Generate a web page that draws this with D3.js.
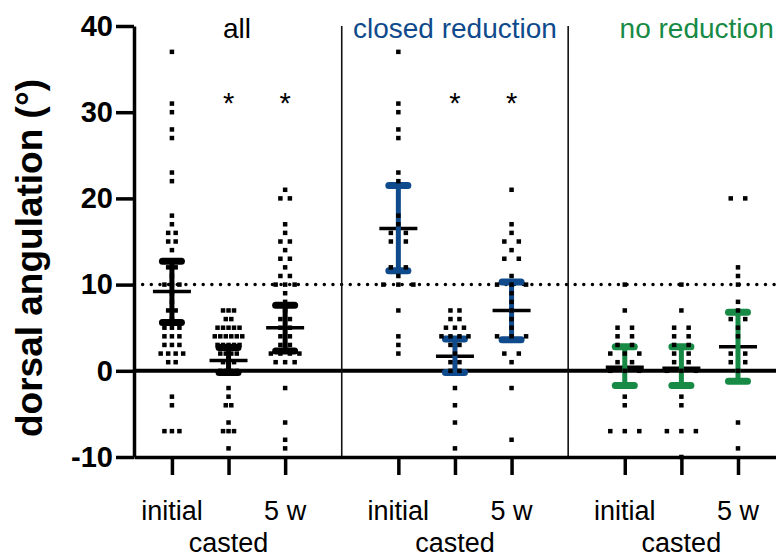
<!DOCTYPE html>
<html>
<head>
<meta charset="utf-8">
<script src="https://cdn.jsdelivr.net/npm/d3@7"></script>
<style>
  body { margin: 0; background: #fff; }
  svg { display: block; font-family: "Liberation Sans", Arial, sans-serif; }
</style>
</head>
<body>
<div id="chart"></div>
<script>
const panels = ["all", "closed reduction", "no reduction"];
const timepoints = ["initial", "casted", "5 w"];
const yTicks = [-10, 0, 10, 20, 30, 40];
const threshold = 10;

// one entry per group: panel 0 initial, casted, 5 w, panel 1 ..., panel 2 ...
const means = [9.2, 1.2, 5.0, 16.5, 1.7, 7.0, 0.4, 0.3, 2.8];
const ciLow = [5.6, -0.2, 2.3, 11.6, -0.2, 3.6, -1.7, -1.7, -1.2];
const ciHigh = [12.7, 2.7, 7.6, 21.5, 3.7, 10.3, 2.8, 2.8, 6.8];
const significant = [false, true, true, false, true, true, false, false, false];

const allInitial = [37, 31, 30, 28, 27, 23, 22, 18, 17, 16, 16, 15, 15, 14, 12, 12, 11, 10, 10, 10, 9, 8, 7, 7, 6, 5, 5, 5, 4, 4, 4, 3, 3, 3, 2, 2, 2, 2, 1, 1, -3, -4, -7, -7, -7];
const allCasted = [7, 7, 7, 6, 6, 5, 5, 5, 5, 5, 4, 4, 4, 4, 4, 4, 3, 3, 3, 3, 3, 2, 2, 2, 2, 1, 1, 1, 0, 0, 0, 0, -2, -3, -4, -4, -6, -7, -7, -7, -9];
const all5w = [21, 20, 20, 17, 16, 15, 15, 14, 13, 13, 12, 11, 11, 10, 10, 10, 9, 8, 7, 6, 6, 5, 5, 4, 4, 3, 3, 2, 2, 2, 2, 1, 1, 1, -2, -6, -8, -9];
const closedInitial = [37, 31, 30, 28, 27, 23, 22, 18, 17, 16, 16, 15, 15, 12, 12, 11, 10, 10, 10, 7, 4, 3, 2];
const closedCasted = [7, 7, 6, 6, 5, 5, 5, 4, 4, 4, 4, 3, 3, 2, 1, 1, 0, 0, -2, -4, -6, -9];
const closed5w = [21, 17, 16, 15, 15, 14, 13, 13, 11, 10, 10, 10, 9, 8, 7, 6, 5, 4, 4, 4, 2, 2, 1, -2, -8];
const noneInitial = [10, 7, 5, 5, 4, 4, 3, 3, 2, 2, 2, 1, 1, 0, 0, 0, -3, -4, -7, -7, -7];
const noneCasted = [10, 7, 5, 5, 4, 4, 3, 3, 2, 2, 1, 1, 0, 0, 0, -3, -4, -7, -7, -7, -10];
const none5w = [20, 20, 12, 11, 10, 8, 7, 6, 6, 5, 4, 2, 2, 1, 1, 0, -6, -9];
const groupPoints = [allInitial, allCasted, all5w, closedInitial, closedCasted, closed5w, noneInitial, noneCasted, none5w];

const width = 776;
const height = 558;
const barColors = ["#000", "#0f4a8c", "#178a45"];
const titleColors = ["#000", "#0f4a8c", "#178a45"];
// horizontal spread of points sharing a value, per group
const spread = [7.5, 5.5, 9.5, 15, 9, 14.5, 14.5, 14.5, 14.5];

const svg = d3.select('#chart')
  .append('svg')
    .attr('width', width)
    .attr('height', height);

// slot index -> x (slots 3 and 7 are the panel dividers)
const x = d3.scaleLinear()
  .domain([-0.67, 11])
  .range([134, 794.6]);
const y = d3.scaleLinear()
  .domain([-10, 40])
  .range([457, 26]);

const slotOf = (g) => Math.floor(g / 3) * 4 + (g % 3);

// reference lines
svg.append('line')
    .attr('x1', x(-0.67))
    .attr('x2', x(11))
    .attr('y1', y(threshold))
    .attr('y2', y(threshold))
    .attr('stroke', '#000')
    .attr('stroke-width', 3.5)
    .attr('stroke-linecap', 'round')
    .attr('stroke-dasharray', '0 8.65');

svg.append('line')
    .attr('x1', x(-0.67))
    .attr('x2', x(11))
    .attr('y1', y(0))
    .attr('y2', y(0))
    .attr('stroke', '#000')
    .attr('stroke-width', 4);

// panel dividers
svg.selectAll('.divider')
  .data([3, 7])
  .join('line')
    .attr('class', 'divider')
    .attr('x1', d => x(d))
    .attr('x2', d => x(d))
    .attr('y1', y(40))
    .attr('y2', y(-10))
    .attr('stroke', '#111')
    .attr('stroke-width', 1.6);

// axes
const yAxis = svg.append('g')
    .attr('transform', `translate(${x(-0.67)},0)`)
    .call(d3.axisLeft(y).tickValues(yTicks).tickFormat(d => String(d))
      .tickSize(18).tickSizeOuter(0).tickPadding(3));
yAxis.selectAll('path, line')
    .attr('stroke', '#000')
    .attr('stroke-width', 3.5);
yAxis.selectAll('text')
    .attr('fill', '#000')
    .style('font-size', '29px')
    .style('font-weight', 'bold')
    .style('font-family', '"Liberation Sans", Arial, sans-serif');

const groupSlots = d3.range(9).map(slotOf);
const xAxis = svg.append('g')
    .attr('transform', `translate(0,${y(-10)})`)
    .call(d3.axisBottom(x).tickValues(groupSlots).tickFormat('').tickSize(18).tickSizeOuter(0));
xAxis.selectAll('path, line')
    .attr('stroke', '#000')
    .attr('stroke-width', 3.5);

// category labels
svg.selectAll('.label-time')
  .data(groupSlots)
  .join('text')
    .attr('class', 'label-time')
    .attr('x', d => x(d))
    .attr('y', (d, i) => (i % 3 === 1) ? 552 : 520)
    .attr('text-anchor', 'middle')
    .style('font-size', '27px')
    .text((d, i) => timepoints[i % 3]);

// panel titles
svg.selectAll('.label-panel')
  .data(panels)
  .join('text')
    .attr('class', 'label-panel')
    .attr('x', (d, i) => [x(1.15), x(5), x(9.27)][i])
    .attr('y', 38)
    .attr('text-anchor', 'middle')
    .attr('fill', (d, i) => titleColors[i])
    .style('font-size', '28px')
    .text(d => d);

// significance stars
svg.selectAll('.star')
  .data(groupSlots.filter((d, i) => significant[i]))
  .join('text')
    .attr('class', 'star')
    .attr('x', d => x(d))
    .attr('y', 113)
    .attr('text-anchor', 'middle')
    .style('font-size', '29px')
    .text('*');

// y axis title
svg.append('text')
    .attr('transform', 'translate(42,258) rotate(-90)')
    .attr('text-anchor', 'middle')
    .style('font-size', '37px')
    .style('font-weight', 'bold')
    .text('dorsal angulation (°)');

// mean lines
svg.selectAll('.mean')
  .data(means)
  .join('line')
    .attr('class', 'mean')
    .attr('x1', (d, i) => x(slotOf(i)) - 19)
    .attr('x2', (d, i) => x(slotOf(i)) + 19)
    .attr('y1', d => y(d))
    .attr('y2', d => y(d))
    .attr('stroke', '#000')
    .attr('stroke-width', 3.5);

// confidence interval bars
const bars = svg.selectAll('.ci')
  .data(d3.range(9))
  .join('g')
    .attr('class', 'ci')
    .attr('stroke', i => barColors[Math.floor(i / 3)])
    .attr('stroke-linecap', 'round');
bars.append('line')
    .attr('x1', i => x(slotOf(i)))
    .attr('x2', i => x(slotOf(i)))
    .attr('y1', i => y(ciLow[i]))
    .attr('y2', i => y(ciHigh[i]))
    .attr('stroke-width', 5);
bars.selectAll('.cap')
  .data(i => [[i, ciLow[i]], [i, ciHigh[i]]])
  .join('line')
    .attr('class', 'cap')
    .attr('x1', d => x(slotOf(d[0])) - 9.5)
    .attr('x2', d => x(slotOf(d[0])) + 9.5)
    .attr('y1', d => y(d[1]))
    .attr('y2', d => y(d[1]))
    .attr('stroke-width', 7);

// scatter points, spread sideways where values repeat
const dots = [];
groupPoints.forEach((vals, g) => {
  d3.group(vals, v => v).forEach((row, v) => {
    row.forEach((_, j) => {
      dots.push({ g: g, v: v, off: (j - (row.length - 1) / 2) * spread[g] });
    });
  });
});

const dotSize = 4.5;
svg.selectAll('.dot')
  .data(dots)
  .join('rect')
    .attr('class', 'dot')
    .attr('x', d => x(slotOf(d.g)) + d.off - dotSize / 2)
    .attr('y', d => y(d.v) - dotSize / 2)
    .attr('width', dotSize)
    .attr('height', dotSize)
    .attr('fill', '#000');
</script>
</body>
</html>
